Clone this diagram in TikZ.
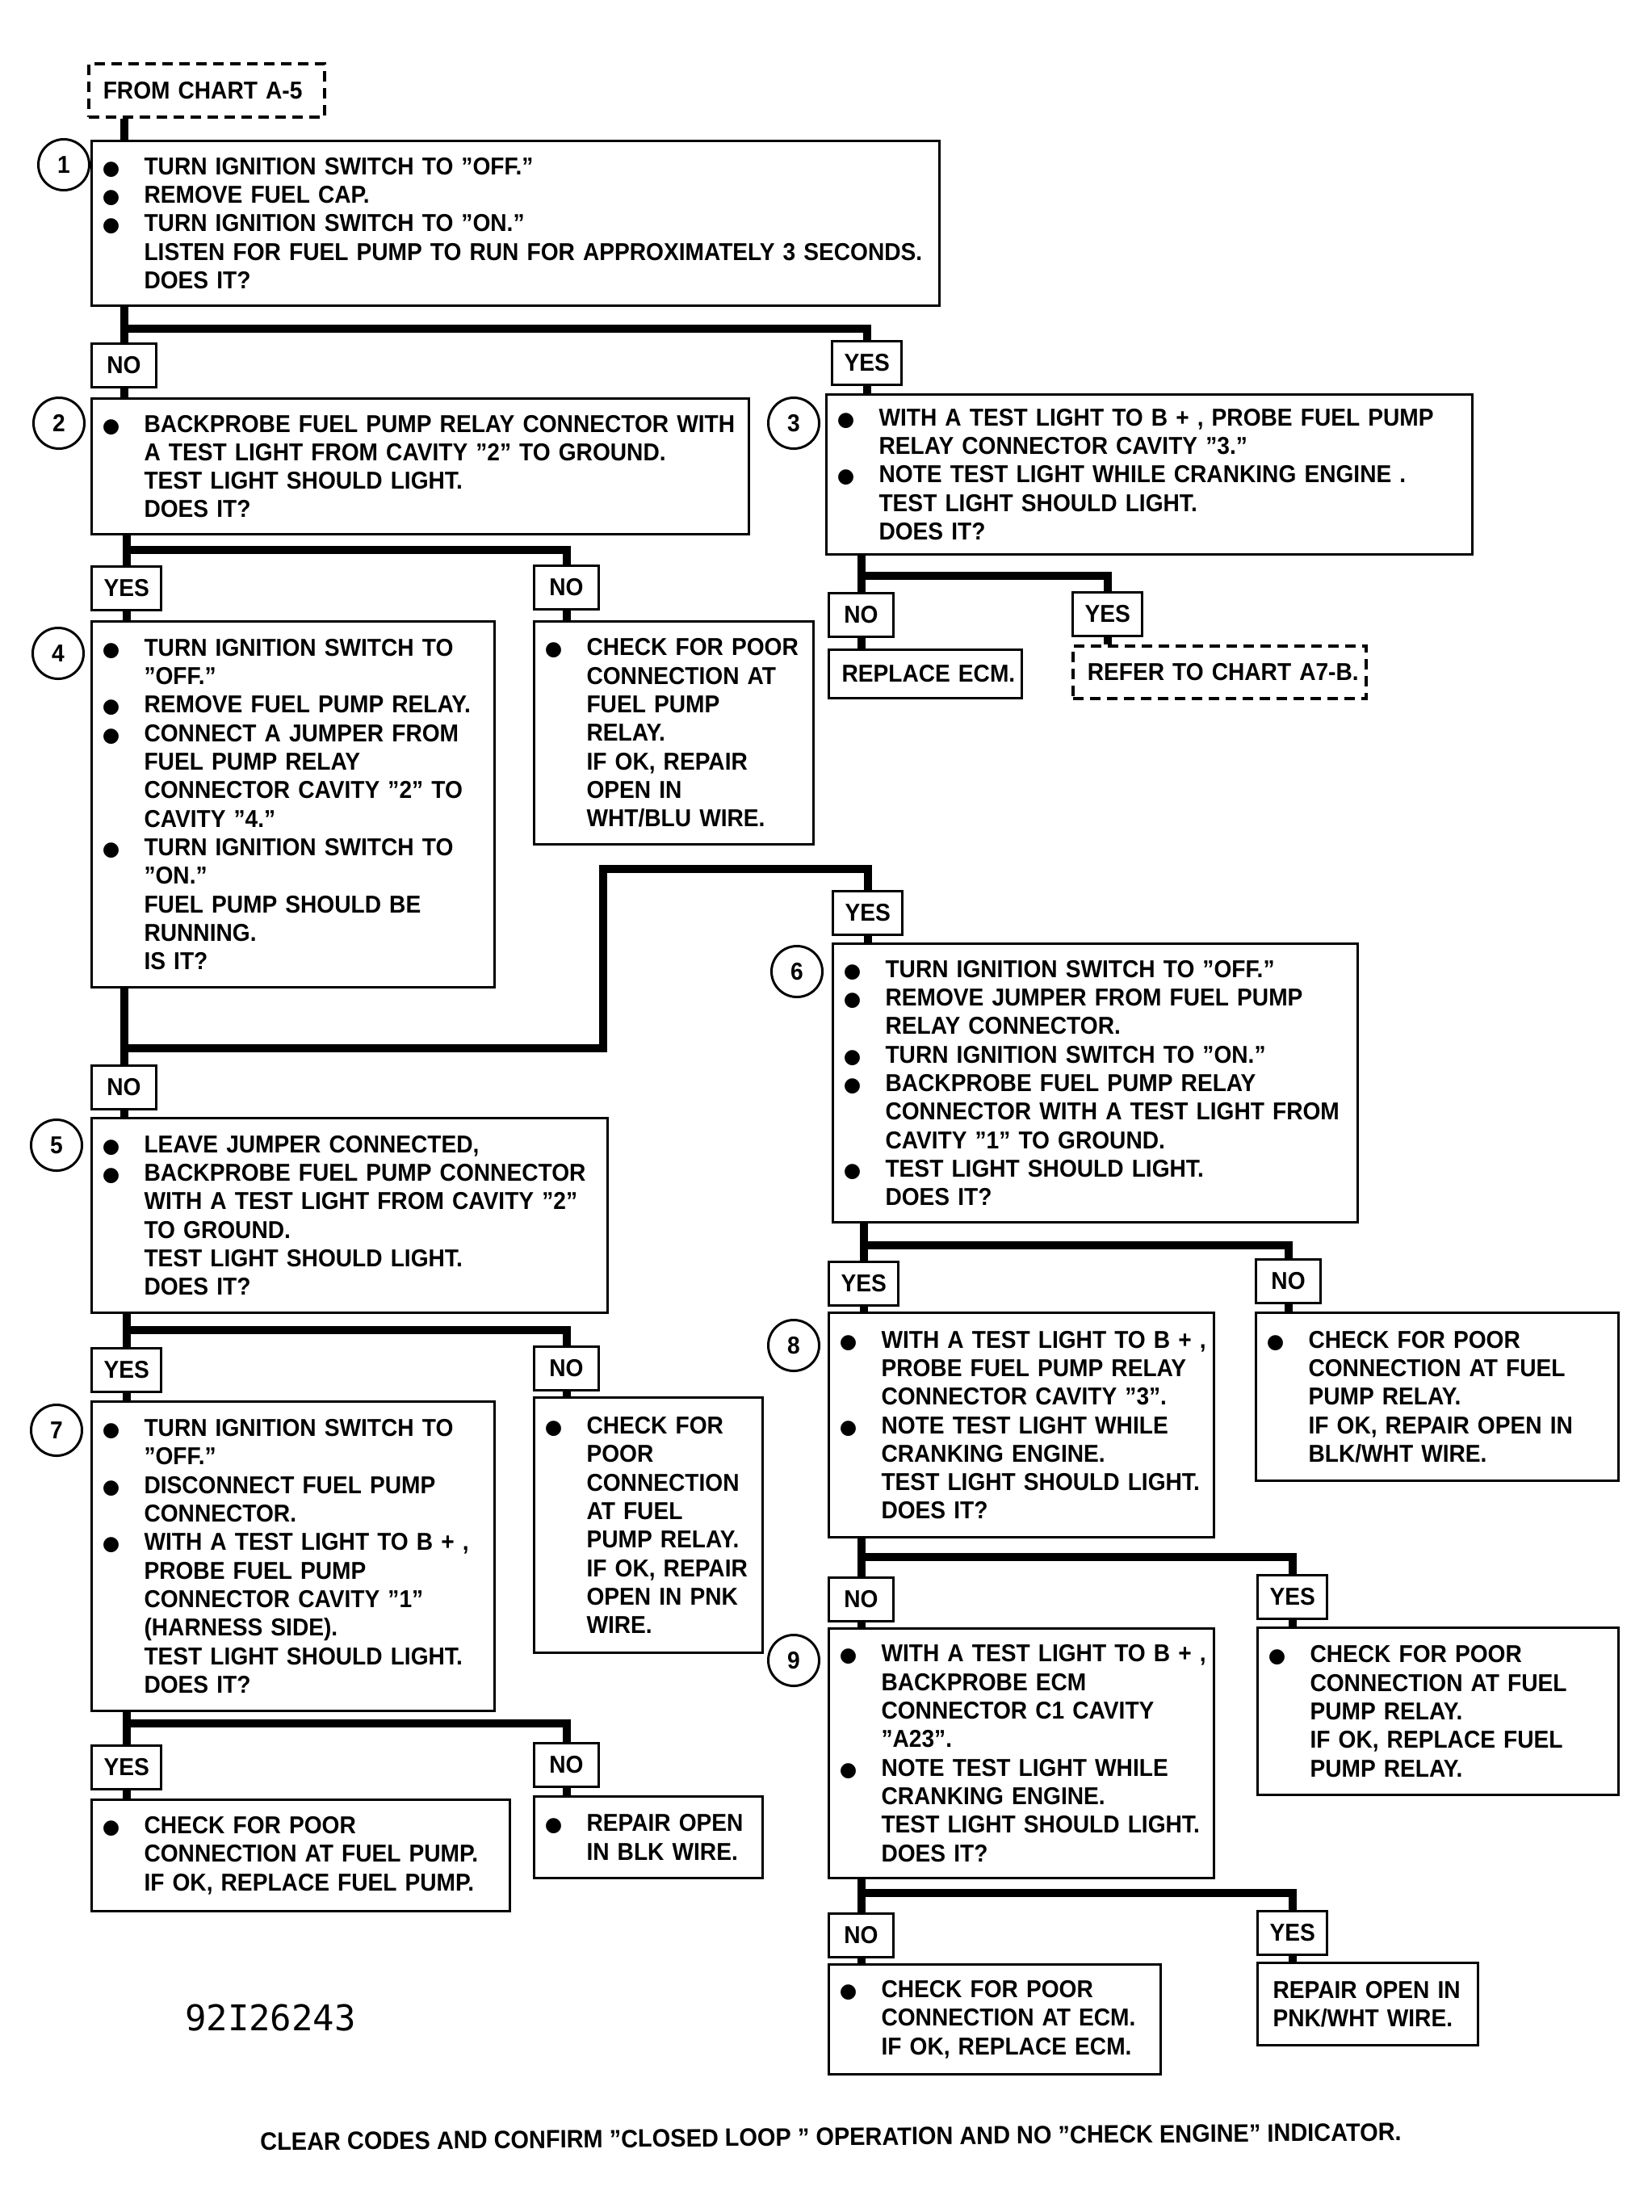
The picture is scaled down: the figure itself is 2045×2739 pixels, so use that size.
\documentclass[tikz,border=0pt]{standalone}
\usepackage{fontspec}
\setmainfont{Liberation Sans}[FakeStretch=0.93]
\newfontfamily\dotfont{DejaVu Sans}
\newfontfamily\codefont{DejaVu Sans Mono}
\newcommand{\bul}{\leavevmode\llap{\makebox[0.82cm][c]{\dotfont\fontsize{7}{7}\selectfont ●}}}

\begin{document}
\begin{tikzpicture}[x=0.01cm, y=-0.01cm,
    every node/.style={font=\bfseries\fontsize{8.6}{10.04}\selectfont},
    stepbox/.style={draw, line width=0.03cm, anchor=north west, inner sep=0pt, align=left,
      execute at begin node={\leftskip=#1\rightskip=-3cm plus 1fil}},
    stepbox/.default=0.65cm,
    chartbox/.style={stepbox=0.18cm, dash pattern=on 0.13cm off 0.08cm, line width=0.035cm},
    answer/.style={draw, line width=0.03cm, anchor=north west, minimum width=0.8cm,
      minimum height=0.54cm, inner xsep=0.15cm, inner ysep=0pt},
    stepnum/.style={draw, circle, line width=0.03cm, fill=white, minimum size=0.63cm, inner sep=0pt},
    branch/.style={line width=0.1cm}]
\useasboundingbox (0,0) rectangle (2045,2739);

% steps and results
\node[chartbox, text width=2.92cm, minimum height=0.66cm] (a5) at (108,77) {FROM CHART A-5};
\node[stepbox, text width=10.49cm, minimum height=2.04cm] (b1) at (112,173) {\bul TURN IGNITION SWITCH TO "OFF."\\
\bul REMOVE FUEL CAP.\\
\bul TURN IGNITION SWITCH TO "ON."\\
LISTEN FOR FUEL PUMP TO RUN FOR APPROXIMATELY 3 SECONDS.\\
DOES IT?};
\node[stepbox, text width=8.14cm, minimum height=1.68cm] (b2) at (112,492) {\bul BACKPROBE FUEL PUMP RELAY CONNECTOR WITH\\
A TEST LIGHT FROM CAVITY "2" TO GROUND.\\
TEST LIGHT SHOULD LIGHT.\\
DOES IT?};
\node[stepbox, text width=8.00cm, minimum height=1.98cm] (b3) at (1022,487) {\bul WITH A TEST LIGHT TO B + , PROBE FUEL PUMP\\
RELAY CONNECTOR CAVITY "3."\\
\bul NOTE TEST LIGHT WHILE CRANKING ENGINE .\\
TEST LIGHT SHOULD LIGHT.\\
DOES IT?};
\node[stepbox, text width=4.99cm, minimum height=4.53cm] (b4) at (112,768) {\bul TURN IGNITION SWITCH TO\\
"OFF."\\
\bul REMOVE FUEL PUMP RELAY.\\
\bul CONNECT A JUMPER FROM\\
FUEL PUMP RELAY\\
CONNECTOR CAVITY "2" TO\\
CAVITY "4."\\
\bul TURN IGNITION SWITCH TO\\
"ON."\\
FUEL PUMP SHOULD BE\\
RUNNING.\\
IS IT?};
\node[stepbox, text width=3.46cm, minimum height=2.76cm] (bn2) at (660,768) {\bul CHECK FOR POOR\\
CONNECTION AT\\
FUEL PUMP\\
RELAY.\\
IF OK, REPAIR\\
OPEN IN\\
WHT/BLU WIRE.};
\node[stepbox=0.16cm, text width=2.39cm, minimum height=0.60cm] (br3) at (1025,803) {REPLACE ECM.};
\node[chartbox, text width=3.63cm, minimum height=0.65cm] (a7b) at (1327,798) {REFER TO CHART A7-B.};
\node[stepbox, text width=6.39cm, minimum height=2.41cm] (b5) at (112,1383) {\bul LEAVE JUMPER CONNECTED,\\
\bul BACKPROBE FUEL PUMP CONNECTOR\\
WITH A TEST LIGHT FROM CAVITY "2"\\
TO GROUND.\\
TEST LIGHT SHOULD LIGHT.\\
DOES IT?};
\node[stepbox, text width=6.50cm, minimum height=3.45cm] (b6) at (1030,1167) {\bul TURN IGNITION SWITCH TO "OFF."\\
\bul REMOVE JUMPER FROM FUEL PUMP\\
RELAY CONNECTOR.\\
\bul TURN IGNITION SWITCH TO "ON."\\
\bul BACKPROBE FUEL PUMP RELAY\\
CONNECTOR WITH A TEST LIGHT FROM\\
CAVITY "1" TO GROUND.\\
\bul TEST LIGHT SHOULD LIGHT.\\
DOES IT?};
\node[stepbox, text width=4.99cm, minimum height=3.83cm] (b7) at (112,1734) {\bul TURN IGNITION SWITCH TO\\
"OFF."\\
\bul DISCONNECT FUEL PUMP\\
CONNECTOR.\\
\bul WITH A TEST LIGHT TO B + ,\\
PROBE FUEL PUMP\\
CONNECTOR CAVITY "1"\\
(HARNESS SIDE).\\
TEST LIGHT SHOULD LIGHT.\\
DOES IT?};
\node[stepbox, text width=2.83cm, minimum height=3.16cm] (bn5) at (660,1729) {\bul CHECK FOR\\
POOR\\
CONNECTION\\
AT FUEL\\
PUMP RELAY.\\
IF OK, REPAIR\\
OPEN IN PNK\\
WIRE.};
\node[stepbox, text width=5.18cm, minimum height=1.38cm] (by7) at (112,2227) {\bul CHECK FOR POOR\\
CONNECTION AT FUEL PUMP.\\
IF OK, REPLACE FUEL PUMP.};
\node[stepbox, text width=2.83cm, minimum height=1.01cm] (bn7) at (660,2223) {\bul REPAIR OPEN\\
IN BLK WIRE.};
\node[stepbox, text width=4.77cm, minimum height=2.78cm] (b8) at (1025,1624) {\bul WITH A TEST LIGHT TO B + ,\\
PROBE FUEL PUMP RELAY\\
CONNECTOR CAVITY "3".\\
\bul NOTE TEST LIGHT WHILE\\
CRANKING ENGINE.\\
TEST LIGHT SHOULD LIGHT.\\
DOES IT?};
\node[stepbox, text width=4.49cm, minimum height=2.08cm] (bn6) at (1554,1624) {\bul CHECK FOR POOR\\
CONNECTION AT FUEL\\
PUMP RELAY.\\
IF OK, REPAIR OPEN IN\\
BLK/WHT WIRE.};
\node[stepbox, text width=4.77cm, minimum height=3.09cm] (b9) at (1025,2015) {\bul WITH A TEST LIGHT TO B + ,\\
BACKPROBE ECM\\
CONNECTOR C1 CAVITY\\
"A23".\\
\bul NOTE TEST LIGHT WHILE\\
CRANKING ENGINE.\\
TEST LIGHT SHOULD LIGHT.\\
DOES IT?};
\node[stepbox, text width=4.47cm, minimum height=2.07cm] (by8) at (1556,2014) {\bul CHECK FOR POOR\\
CONNECTION AT FUEL\\
PUMP RELAY.\\
IF OK, REPLACE FUEL\\
PUMP RELAY.};
\node[stepbox, text width=4.11cm, minimum height=1.36cm] (bn9) at (1025,2431) {\bul CHECK FOR POOR\\
CONNECTION AT ECM.\\
IF OK, REPLACE ECM.};
\node[stepbox=0.19cm, text width=2.73cm, minimum height=1.02cm] (by9) at (1556,2429) {REPAIR OPEN IN\\
PNK/WHT WIRE.};

% yes / no
\node[answer] (no1) at (112,424) {NO};
\node[answer] (yes1) at (1029,421) {YES};
\node[answer] (yes2) at (112,700) {YES};
\node[answer] (no2) at (660,699) {NO};
\node[answer] (no3) at (1025,733) {NO};
\node[answer] (yes3) at (1327,732) {YES};
\node[answer] (yes4) at (1030,1102) {YES};
\node[answer] (no4) at (112,1318) {NO};
\node[answer] (yes5) at (112,1668) {YES};
\node[answer] (no5) at (660,1666) {NO};
\node[answer] (yes6) at (1025,1561) {YES};
\node[answer] (no6) at (1554,1558) {NO};
\node[answer] (yes7) at (112,2160) {YES};
\node[answer] (no7) at (660,2157) {NO};
\node[answer] (no8) at (1025,1952) {NO};
\node[answer] (yes8) at (1556,1949) {YES};
\node[answer] (no9) at (1025,2368) {NO};
\node[answer] (yes9) at (1556,2365) {YES};

% junctions
\coordinate (j1) at (0,407);
\coordinate (j2) at (0,681);
\coordinate (j3) at (0,713);
\coordinate (j4) at (747,1298);
\coordinate (k4) at (747,1076);
\coordinate (j5) at (0,1647);
\coordinate (j6) at (0,1542);
\coordinate (j7) at (0,2134);
\coordinate (j8) at (0,1928);
\coordinate (j9) at (0,2344);

\draw[branch] (a5.south -| no1) -- (b1.north -| no1);
\draw[branch] (b1.south -| no1) -- (no1.north) (no1 |- j1) -| (yes1.north);
\draw[branch] (no1.south) -- (b2.north -| no1) (yes1.south) -- (b3.north -| yes1);
\draw[branch] (b2.south -| yes2) -- (yes2.north) (yes2 |- j2) -| (no2.north);
\draw[branch] (yes2.south) -- (b4.north -| yes2) (no2.south) -- (bn2.north -| no2);
\draw[branch] (b3.south -| no3) -- (no3.north) (no3 |- j3) -| (yes3.north);
\draw[branch] (no3.south) -- (br3.north -| no3) (yes3.south) -- (a7b.north -| yes3);
\draw[branch] (b4.south -| no4) -- (no4.north) (no4 |- j4) -- (j4) -- (k4) -| (yes4.north);
\draw[branch] (no4.south) -- (b5.north -| no4) (yes4.south) -- (b6.north -| yes4);
\draw[branch] (b5.south -| yes5) -- (yes5.north) (yes5 |- j5) -| (no5.north);
\draw[branch] (yes5.south) -- (b7.north -| yes5) (no5.south) -- (bn5.north -| no5);
\draw[branch] (b6.south -| yes6) -- (yes6.north) (yes6 |- j6) -| (no6.north);
\draw[branch] (yes6.south) -- (b8.north -| yes6) (no6.south) -- (bn6.north -| no6);
\draw[branch] (b7.south -| yes7) -- (yes7.north) (yes7 |- j7) -| (no7.north);
\draw[branch] (yes7.south) -- (by7.north -| yes7) (no7.south) -- (bn7.north -| no7);
\draw[branch] (b8.south -| no8) -- (no8.north) (no8 |- j8) -| (yes8.north);
\draw[branch] (no8.south) -- (b9.north -| no8) (yes8.south) -- (by8.north -| yes8);
\draw[branch] (b9.south -| no9) -- (no9.north) (no9 |- j9) -| (yes9.north);
\draw[branch] (no9.south) -- (bn9.north -| no9) (yes9.south) -- (by9.north -| yes9);

% step numbers
\node[stepnum] (n1) at (79,204) {1};
\node[stepnum] (n2) at (73,524) {2};
\node[stepnum] (n3) at (983,524) {3};
\node[stepnum] (n4) at (72,809) {4};
\node[stepnum] (n5) at (70,1418) {5};
\node[stepnum] (n6) at (987,1203) {6};
\node[stepnum] (n7) at (70,1771) {7};
\node[stepnum] (n8) at (983,1666) {8};
\node[stepnum] (n9) at (983,2056) {9};

\node[font=\codefont\fontsize{12.5}{13}\selectfont] (code) at (335,2498) {92I26243};
\node[rotate=0.5, font=\bfseries\fontsize{8.85}{10}\selectfont] (note) at (1029,2646) {CLEAR CODES AND CONFIRM "CLOSED LOOP " OPERATION AND NO "CHECK ENGINE" INDICATOR.};
\end{tikzpicture}
\end{document}
